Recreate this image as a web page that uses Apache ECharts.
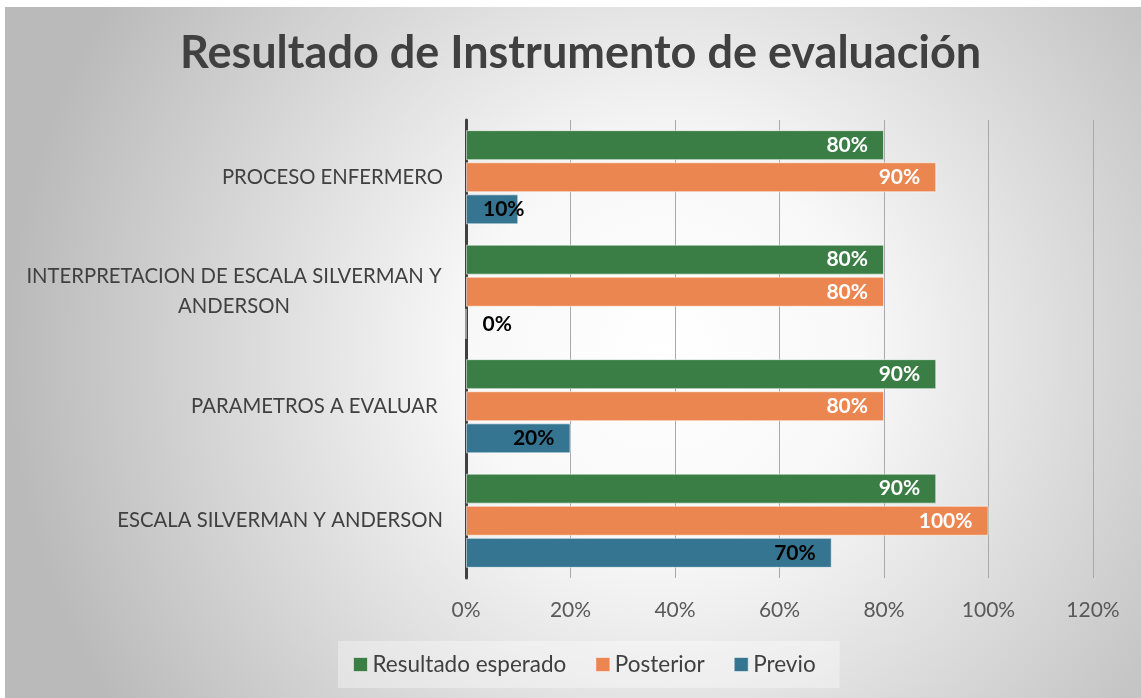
<!DOCTYPE html>
<html>
<head>
<meta charset="utf-8">
<script src="https://cdn.jsdelivr.net/npm/echarts@6/dist/echarts.min.js"></script>
<style>
  html, body { margin: 0; padding: 0; background: #fff; }
  #chart { width: 1141px; height: 698px; }
</style>
</head>
<body>
<div id="chart"></div>
<script>
// categorias, de arriba hacia abajo
const categories = [
  'PROCESO ENFERMERO',
  'INTERPRETACION DE ESCALA SILVERMAN Y\nANDERSON',
  'PARAMETROS A EVALUAR ',
  'ESCALA SILVERMAN Y ANDERSON'
];
const seriesNames = ['Resultado esperado', 'Posterior', 'Previo'];
const esperado = [80, 80, 90, 90];
const posterior = [90, 80, 80, 100];
const previo = [10, 0, 20, 70];

const colors = ['#3a7e45', '#eb8650', '#367591'];
const labelColors = ['#ffffff', '#ffffff', '#000000'];
const font = 'Lato, "Open Sans", sans-serif';

const chart = echarts.init(document.getElementById('chart'));

/** arma los datos de una serie; las barras cortas llevan la etiqueta al inicio */
function barData(values) {
  return values.map(v => {
    if (v < 15) {
      return { value: v, label: { position: 'insideLeft', distance: 17 } };
    }
    return v;
  });
}

const option = {
  backgroundColor: '#ffffff',
  color: colors,
  textStyle: { fontFamily: font },
  graphic: [{
    type: 'rect',
    z: -100,
    silent: true,
    shape: { x: 5, y: 7, width: 1136, height: 691 },
    style: {
      fill: new echarts.graphic.RadialGradient(0.58, 0.5, 0.95, [
        { offset: 0, color: '#ffffff' },
        { offset: 0.3, color: '#f8f8f8' },
        { offset: 1, color: '#bababa' }
      ])
    }
  }],
  title: {
    text: 'Resultado de Instrumento de evaluación',
    left: 175,
    top: 26,
    textStyle: {
      fontFamily: font,
      fontSize: 45,
      fontWeight: 'bold',
      color: '#404040'
    }
  },
  legend: {
    data: seriesNames,
    left: 338,
    top: 641,
    icon: 'rect',
    itemWidth: 14,
    itemHeight: 14,
    itemGap: 29,
    padding: [12, 24, 12, 15],
    backgroundColor: 'rgba(255,255,255,0.35)',
    itemStyle: { borderColor: 'rgba(255,255,255,0.5)', borderWidth: 1 },
    textStyle: { fontFamily: font, fontSize: 22.5, color: '#404040' }
  },
  grid: {
    left: 466,
    right: 48,
    top: 120,
    bottom: 120
  },
  xAxis: {
    type: 'value',
    min: 0,
    max: 120,
    interval: 20,
    axisLine: { show: false },
    axisTick: { show: false },
    splitLine: { lineStyle: { color: '#a9a9a9', width: 1 } },
    axisLabel: {
      formatter: '{value}%',
      margin: 22,
      fontFamily: font,
      fontSize: 21,
      color: '#595959'
    }
  },
  yAxis: {
    type: 'category',
    inverse: true,
    data: categories,
    axisLine: { lineStyle: { color: '#404040', width: 3 } },
    axisTick: { show: false },
    axisLabel: {
      margin: 23,
      fontFamily: font,
      fontSize: 20.3,
      color: '#404040',
      lineHeight: 30,
      formatter: function (val) {
        if (val.indexOf('\n') < 0) return val;
        return val.split('\n').map(l => '{c|' + l + '}').join('\n');
      },
      rich: {
        c: {
          width: 418,
          align: 'center',
          fontFamily: font,
          fontSize: 20.3,
          color: '#404040',
          lineHeight: 30
        }
      }
    }
  },
  series: [esperado, posterior, previo].map((vals, i) => ({
    name: seriesNames[i],
    type: 'bar',
    barWidth: 30,
    barGap: '7%',
    data: barData(vals),
    itemStyle: {
      borderColor: 'rgba(255,255,255,0.55)',
      borderWidth: 1
    },
    label: {
      show: true,
      position: 'insideRight',
      distance: 16,
      formatter: '{c}%',
      fontFamily: font,
      fontSize: 21,
      fontWeight: 'bold',
      color: labelColors[i]
    }
  }))
};

chart.setOption(option);
</script>
</body>
</html>
